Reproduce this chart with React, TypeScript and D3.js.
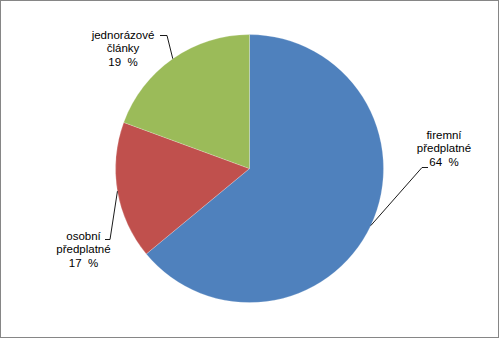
import React from "react";
import * as d3 from "d3";

const categories = ["firemní předplatné", "osobní předplatné", "jednorázové články"];
const labelLines = [
  ["firemní", "předplatné"],
  ["osobní", "předplatné"],
  ["jednorázové", "články"],
];
const values = [64, 16.6, 19.4];
const colors = ["#4F81BD", "#C0504D", "#9BBB59"];

// layout: label center x, first baseline y, leader elbow and end
const labelPos = [
  { x: 444, y: 139, elbow: [422, 167.5], end: [428, 167.5] },
  { x: 83.5, y: 240, elbow: [110, 239.5], end: [105, 239.5] },
  { x: 123, y: 39, elbow: [167, 35.5], end: [160, 35.5] },
];

const W = 500;
const H = 339;
const cx = 249.5;
const cy = 168.6;
const R = 134;

export default function App() {
  const total = d3.sum(values);
  const pie = d3.pie<number>().sort(null).value((d) => d)(values);
  const arc = d3.arc<d3.PieArcDatum<number>>().innerRadius(0).outerRadius(R);
  const edgeArc = d3.arc<d3.PieArcDatum<number>>().innerRadius(R).outerRadius(R);
  const lh = 13.3;
  return (
    <svg
      width={W}
      height={H}
      style={{ position: "absolute", left: 0, top: 0 }}
      fontFamily="'Liberation Sans', Arial, sans-serif"
    >
      <rect x={0} y={0} width={W} height={H} fill="#fff" />
      <rect x={0.5} y={0.5} width={498} height={337} fill="none" stroke="#868686" strokeWidth={1} />
      <g transform={`translate(${cx},${cy})`}>
        {pie.map((p, i) => (
          <path key={categories[i]} d={arc(p) || ""} fill={colors[i]} stroke="#ffffff" strokeOpacity={0.35} strokeWidth={0.6} />
        ))}
      </g>
      {pie.map((p, i) => {
        const [ex, ey] = edgeArc.centroid(p);
        const lp = labelPos[i];
        const pct = Math.round((values[i] / total) * 100);
        return (
          <g key={"l" + i}>
            <polyline
              points={`${cx + ex},${cy + ey} ${lp.elbow[0]},${lp.elbow[1]} ${lp.end[0]},${lp.end[1]}`}
              fill="none"
              stroke="#000"
              strokeWidth={0.9}
            />
            <text x={lp.x} y={lp.y} textAnchor="middle" fontSize={11.5} fill="#000">
              {labelLines[i].map((t, j) => (
                <tspan key={j} x={lp.x} y={lp.y + j * lh}>
                  {t}
                </tspan>
              ))}
              <tspan x={lp.x} y={lp.y + 2 * lh}>
                {pct + "\u00a0\u00a0%"}
              </tspan>
            </text>
          </g>
        );
      })}
    </svg>
  );
}
